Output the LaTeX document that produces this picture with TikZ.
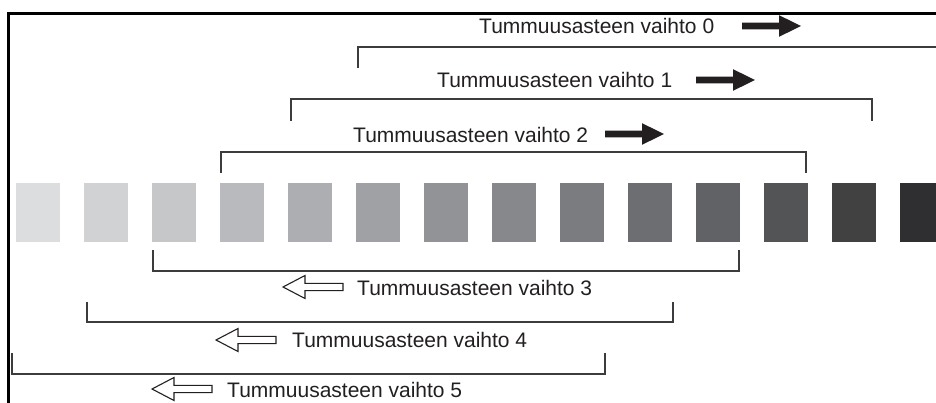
\documentclass[tikz,border=0pt]{standalone}
\usepackage{fontspec}
\setmainfont{Liberation Sans}
\definecolor{g1}{HTML}{DCDDDF}
\definecolor{g2}{HTML}{D1D2D4}
\definecolor{g3}{HTML}{C6C7C9}
\definecolor{g4}{HTML}{B9BABD}
\definecolor{g5}{HTML}{ADAEB1}
\definecolor{g6}{HTML}{A0A1A4}
\definecolor{g7}{HTML}{929396}
\definecolor{g8}{HTML}{87888B}
\definecolor{g9}{HTML}{7B7C7F}
\definecolor{g10}{HTML}{6D6E71}
\definecolor{g11}{HTML}{616265}
\definecolor{g12}{HTML}{535456}
\definecolor{g13}{HTML}{414142}
\definecolor{g14}{HTML}{2F2E30}
\definecolor{ink}{HTML}{231F20}
\definecolor{brk}{HTML}{3C3C3E}
\tikzset{
  sq/.style={draw=none,inner sep=0,minimum width=44pt,minimum height=59pt,anchor=north west},
  lbl/.style={inner sep=0,anchor=west,text=ink,font=\fontsize{21}{24}\selectfont},
  bracket/.style={draw=brk,line width=1.5pt},
  frame/.style={draw=black,line width=3.2pt},
  fillarrow/.pic={\fill[ink] (0,-3.3) -- (37,-3.3) -- (37,-10.8) -- (59,0) -- (37,10.8) -- (37,3.3) -- (0,3.3) -- cycle;},
  hollowarrow/.pic={\draw[ink,line width=1.1pt,fill=white,line join=miter] (0,0) -- (22,-11.5) -- (22,-3.6) -- (60,-3.6) -- (60,3.6) -- (22,3.6) -- (22,11.5) -- cycle;}
}
\begin{document}
\begin{tikzpicture}[x=1pt,y=-1pt]
\useasboundingbox (0,0) rectangle (936,403);
% frame
\draw[frame,line join=miter] (8.8,403) -- (8.8,13.5) -- (936,13.5);
% squares
\foreach \i in {1,...,13}{
  \node[sq,fill=g\i] (s\i) at ({16+68*(\i-1)},183) {};
}
\node[sq,fill=g14,minimum width=36pt] (s14) at (900,183) {};
% top brackets
\draw[bracket] (358,68) -- (358,47) -- (936,47);
\draw[bracket] (291,121) -- (291,99) -- (872,99) -- (872,121);
\draw[bracket] (221,173) -- (221,152) -- (806,152) -- (806,173);
% bottom brackets
\draw[bracket] (153,250) -- (153,271) -- (739,271) -- (739,250);
\draw[bracket] (87,302) -- (87,322) -- (673,322) -- (673,302);
\draw[bracket] (12,353) -- (12,374) -- (605,374) -- (605,353);
% labels
\node[lbl] (t0) at (479,26) {Tummuusasteen vaihto 0};
\node[lbl] (t1) at (437,80) {Tummuusasteen vaihto 1};
\node[lbl] (t2) at (353,135) {Tummuusasteen vaihto 2};
\node[lbl] (t3) at (357,288) {Tummuusasteen vaihto 3};
\node[lbl] (t4) at (292,340) {Tummuusasteen vaihto 4};
\node[lbl] (t5) at (227,390) {Tummuusasteen vaihto 5};
% arrows
\pic at (742,26) {fillarrow};
\pic at (696,80) {fillarrow};
\pic at (605,134) {fillarrow};
\pic at (283,287) {hollowarrow};
\pic at (216,340) {hollowarrow};
\pic at (152,389) {hollowarrow};
\end{tikzpicture}
\end{document}
